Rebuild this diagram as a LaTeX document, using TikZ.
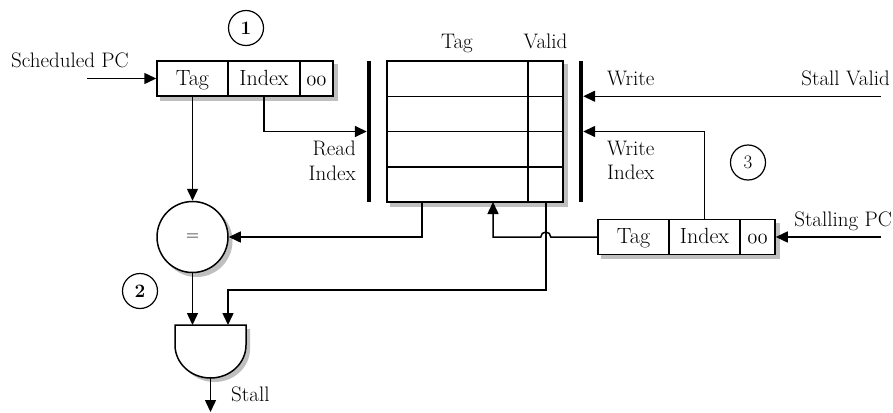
\documentclass[tikz,border=0pt]{standalone}
\usetikzlibrary{arrows.meta,backgrounds}
% old-style zeros for the byte-offset field
\newcommand{\lowbits}{{\usefont{OML}{cmm}{m}{it}00}}
\definecolor{shadowgrey}{gray}{0.75}
\begin{document}
\begin{tikzpicture}[x=1pt,y=-1pt,
  wire/.style={line width=1.5pt},
  arr/.style={wire,-{Triangle[length=12pt,width=11pt]}},
  cell/.style={draw,line width=1.5pt,fill=white,minimum height=35pt,inner sep=0pt,
    text height=15pt,text depth=2pt,font=\fontsize{22}{26}\selectfont},
  memcell/.style={draw,line width=1.5pt,fill=white,minimum height=35.25pt,inner sep=0pt},
  bar/.style={fill=black,minimum width=4pt,minimum height=141pt,inner sep=0pt},
  lbl/.style={inner sep=0pt,font=\fontsize{21}{25}\selectfont},
  badge/.style={draw,circle,line width=1.2pt,minimum size=35pt,inner sep=0pt,font=\fontsize{19}{22}\selectfont},
  shadowfill/.style={fill=shadowgrey},
]
\useasboundingbox (0,0) rectangle (893,412);

% scheduled PC register
\node[cell,minimum width=71pt] (r1tag) at (192.5,78.5) {Tag};
\node[cell,minimum width=72pt] (r1idx) at (264,78.5) {Index};
\node[cell,minimum width=33pt] (r1lo) at (316.5,78.5) {\lowbits};

% tag / valid array
\foreach \r/\yc in {1/78.625,2/113.875,3/149.125,4/184.375}{
  \node[memcell,minimum width=141pt] (tag\r) at (457.5,\yc) {};
  \node[memcell,minimum width=35pt] (val\r) at (545.5,\yc) {};
}
\node[lbl,anchor=base] (htag) at (457,48.5) {Tag};
\node[lbl,anchor=base] (hval) at (545.5,48.5) {Valid};

% read and write port bars
\node[bar] (rbarL) at (369,131.5) {};
\node[bar] (rbarR) at (581,131.5) {};

% stalling PC register
\node[cell,minimum width=71pt] (r2tag) at (633.5,237) {Tag};
\node[cell,minimum width=71pt] (r2idx) at (704.5,237) {Index};
\node[cell,minimum width=35pt] (r2lo) at (757.5,237) {\lowbits};

% comparator
\node[draw,circle,line width=1.5pt,fill=white,minimum size=71pt,inner sep=0pt,
  font=\fontsize{18}{20}\selectfont] (eq) at (192.5,237) {=};

% AND gate
\draw[line width=1.5pt,fill=white]
  (175,325) -- (246,325) -- (246,345)
  arc[start angle=0,end angle=-180,x radius=35.5pt,y radius=33pt] -- cycle;
\coordinate (in1) at (192.5,325);
\coordinate (in2) at (228,325);
\coordinate (gout) at (210.5,378);
\coordinate (stall) at (210.5,412);

% drop shadows behind the boxes, circle and gate
\begin{scope}[on background layer]
  \fill[shadowfill] ([shift={(4,4)}]r1tag.north west) rectangle ([shift={(4,4)}]r1lo.south east);
  \fill[shadowfill] ([shift={(4,4)}]tag1.north west) rectangle ([shift={(4,4)}]val4.south east);
  \fill[shadowfill] ([shift={(4,4)}]r2tag.north west) rectangle ([shift={(4,4)}]r2lo.south east);
  \fill[shadowfill] ([shift={(4,4)}]eq.center) circle[radius=36pt];
  \fill[shadowfill] (179,329) -- (250,329) -- (250,349)
    arc[start angle=0,end angle=-180,x radius=35.5pt,y radius=33pt] -- cycle;
\end{scope}

% array ports
\coordinate (tagout) at (422,202);
\coordinate (tagin) at (493,202);
\coordinate (validout) at (546,202);
\coordinate (vturn) at (546,290);

% external inputs
\coordinate (spcin) at (87,78.5);
\coordinate (svin) at (881,96.25);
\coordinate (stin) at (881,237);

% labels
\node[lbl,anchor=base west] (lsched) at (11,67) {Scheduled PC};
\node[lbl,anchor=base east] (lread) at (356,155) {Read};
\node[lbl,anchor=base east] (lrindex) at (356,180) {Index};
\node[lbl,anchor=base west] (lwrite) at (607,85) {Write};
\node[lbl,anchor=base west] (lwrite2) at (607,155) {Write};
\node[lbl,anchor=base west] (lwindex) at (607,179.5) {Index};
\node[lbl,anchor=base east] (lsv) at (890,85) {Stall Valid};
\node[lbl,anchor=base east] (lstpc) at (892,226) {Stalling PC};
\node[lbl,anchor=base west] (lstall) at (231,401) {Stall};

% step markers
\node[badge] (b1) at (246,28) {\bfseries 1};
\node[badge] (b2) at (140,291) {\bfseries 2};
\node[badge] (b3) at (748,162.5) {3};

% connections
\draw[arr] (spcin) -- (r1tag.west);
\draw[arr] (r1idx.south) |- (rbarL.west);
\draw[arr] (r1tag.south) -- (eq.north);
\draw[arr] (tagout) |- (eq.east);
\draw[arr] (eq.south) -- (in1);
\draw[arr] (validout) -- (vturn) -| (in2);
\draw[arr] (r2tag.west) -- ++(-46.5,0)
  arc[start angle=0,end angle=180,radius=5pt] -- (tagin |- r2tag.west) -- (tagin);
\draw[arr] (svin) -- (svin -| rbarR.east);
\draw[arr] (r2idx.north) |- (rbarR.east);
\draw[arr] (stin) -- (r2lo.east);
\draw[arr] (gout) -- (stall);
\end{tikzpicture}
\end{document}
